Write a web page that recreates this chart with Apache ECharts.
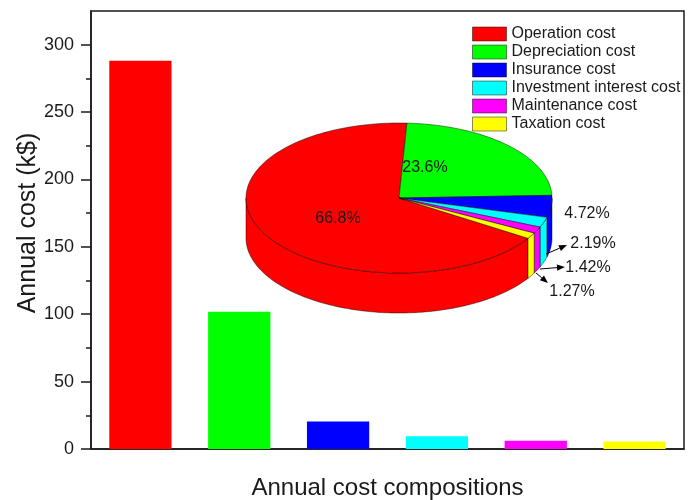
<!DOCTYPE html>
<html>
<head>
<meta charset="utf-8">
<script src="https://cdn.jsdelivr.net/npm/echarts@6/dist/echarts.min.js"></script>
<style>
  html, body { margin: 0; padding: 0; background: #fff; }
  #chart { width: 696px; height: 500px; }
</style>
</head>
<body>
<div id="chart"></div>
<script>
// Cost components (k$ per year)
const categories = ['Operation cost', 'Depreciation cost', 'Insurance cost',
  'Investment interest cost', 'Maintenance cost', 'Taxation cost'];
const annualCost = [288.1, 101.8, 20.4, 9.45, 6.12, 5.48];
// Share of each component in the total annual cost (%)
const costShare = [66.8, 23.6, 4.72, 2.19, 1.42, 1.27];
const colors = ['#FF0000', '#00FF00', '#0000FF', '#00FFFF', '#FF00FF', '#FFFF00'];
// Y-axis tick values
const yTicks = [0, 50, 100, 150, 200, 250, 300];
const yMinorTicks = [25, 75, 125, 175, 225, 275];

const FONT = '"Liberation Sans", Arial, sans-serif';
const INK = '#1a1a1a';

// Geometry of the tilted pie drawn as an inset
const PIE = { cx: 399, cy: 198, rx: 153, ry: 75, depth: 40, start: 327.5 };
// Label placement around the pie (offsets from the pie centre)
const pieLabels = [
  { at: [-61, 21] },
  { at: [26, -30] },
  { at: [188, 16] },
  { at: [194, 46], arrow: [[147, 56], [168, 47]] },
  { at: [189, 70], arrow: [[141, 71], [166, 69]] },
  { at: [173, 94], arrow: [[137, 75], [149, 85]] }
];

function pt(a, dy) {
  const r = a * Math.PI / 180;
  return [PIE.cx + PIE.rx * Math.cos(r), PIE.cy - PIE.ry * Math.sin(r) + (dy || 0)];
}
function arc(a0, a1, dy) {
  const n = Math.max(2, Math.ceil(Math.abs(a1 - a0)));
  const pts = [];
  for (let i = 0; i <= n; i++) pts.push(pt(a0 + (a1 - a0) * i / n, dy));
  return pts;
}

const outline = { stroke: 'rgba(0,0,0,0.75)', lineWidth: 0.6, lineJoin: 'round' };

function renderPieSlice(params, api) {
  const i = params.dataIndex;
  const share = api.value(0);
  let before = 0;
  for (let k = 0; k < i; k++) before += costShare[k];
  const s = PIE.start - 3.6 * before;   // slice start angle (clockwise order)
  const e = s - 3.6 * share;            // slice end angle
  const children = [];
  const color = colors[i];

  // outer wall, only on the front half of the disc
  for (let k = -1; k <= 1; k++) {
    const lo = Math.max(e, 180 + 360 * k);
    const hi = Math.min(s, 360 + 360 * k);
    if (hi > lo) {
      const top = arc(lo, hi, 0);
      const bottom = arc(hi, lo, PIE.depth);
      children.push({
        type: 'polygon',
        shape: { points: top.concat(bottom) },
        style: Object.assign({ fill: color }, outline)
      });
    }
  }
  // top face
  const face = [[PIE.cx, PIE.cy]].concat(arc(s, e, 0));
  children.push({
    type: 'polygon',
    shape: { points: face },
    style: Object.assign({ fill: color }, outline),
    z2: 5
  });

  // percentage label
  const lab = pieLabels[i];
  children.push({
    type: 'text',
    x: PIE.cx + lab.at[0],
    y: PIE.cy + lab.at[1],
    z2: 10,
    style: {
      text: share + '%', fill: INK, font: '16px ' + FONT,
      align: 'center', verticalAlign: 'middle'
    }
  });
  if (lab.arrow) {
    const p0 = [PIE.cx + lab.arrow[0][0], PIE.cy + lab.arrow[0][1]];
    const p1 = [PIE.cx + lab.arrow[1][0], PIE.cy + lab.arrow[1][1]];
    const dx = p1[0] - p0[0], dy = p1[1] - p0[1];
    const len = Math.sqrt(dx * dx + dy * dy);
    const ux = dx / len, uy = dy / len;
    const hl = 8, hw = 3.2;
    const base = [p1[0] - ux * hl, p1[1] - uy * hl];
    children.push({
      type: 'line', z2: 10,
      shape: { x1: p0[0], y1: p0[1], x2: base[0], y2: base[1] },
      style: { stroke: '#000', lineWidth: 1 }
    });
    children.push({
      type: 'polygon', z2: 10,
      shape: { points: [p1, [base[0] - uy * hw, base[1] + ux * hw], [base[0] + uy * hw, base[1] - ux * hw]] },
      style: { fill: '#000' }
    });
  }
  return { type: 'group', children: children };
}

const barSeries = categories.map((name, i) => ({
  name: name,
  type: 'bar',
  stack: 'cost',
  barWidth: '63%',
  itemStyle: { color: colors[i] },
  data: annualCost.map((v, j) => (j === i ? v : '-')),
  z: 2
}));

const chart = echarts.init(document.getElementById('chart'), null, { renderer: 'canvas' });
chart.setOption({
  animation: false,
  color: colors,
  textStyle: { fontFamily: FONT },
  grid: {
    left: 91, right: 12, top: 11, bottom: 51,
    outerBoundsMode: 'none',
    containLabel: false,
    show: true, borderColor: INK, borderWidth: 1.5, backgroundColor: 'transparent'
  },
  legend: {
    orient: 'vertical',
    left: 467, top: 20,
    itemWidth: 34, itemHeight: 14, itemGap: 0,
    icon: 'rect',
    itemStyle: { borderColor: 'rgba(0,0,0,0.45)', borderWidth: 1 },
    textStyle: { fontSize: 16, lineHeight: 18, color: INK, fontFamily: FONT, padding: [0, 0, 0, 0] },
    data: categories
  },
  // y-axis title
  graphic: [{
    type: 'text',
    x: 28, y: 223,
    rotation: Math.PI / 2,
    style: {
      text: 'Annual cost (k$)', fill: INK, font: '25px ' + FONT,
      align: 'center', verticalAlign: 'middle'
    }
  }],
  xAxis: [{
    type: 'category',
    data: categories,
    name: 'Annual cost compositions',
    nameLocation: 'middle',
    nameGap: 27,
    nameTextStyle: { fontSize: 24, color: INK, fontFamily: FONT },
    axisLine: { lineStyle: { color: INK, width: 1.5 } },
    axisTick: { alignWithLabel: true, length: 8, interval: 0, lineStyle: { color: INK, width: 1.5 } },
    axisLabel: { show: false },
    splitLine: { show: false }
  }, {
    type: 'category',
    data: categories,
    position: 'bottom',
    axisLine: { show: false },
    axisTick: { length: 4, interval: 0, lineStyle: { color: INK, width: 1.5 } },
    axisLabel: { show: false },
    splitLine: { show: false }
  }],
  yAxis: [{
    type: 'value',
    min: 0, max: 325,
    interval: 50,
    axisLine: { show: true, lineStyle: { color: INK, width: 1.5 } },
    axisTick: { show: true, length: 10, customValues: yTicks, lineStyle: { color: INK, width: 1.5 } },
    axisLabel: { fontSize: 18, color: INK, margin: 17, customValues: yTicks, fontFamily: FONT },
    splitLine: { show: false }
  }, {
    type: 'value',
    min: 0, max: 325,
    interval: 50,
    position: 'left',
    axisLine: { show: false },
    axisTick: { show: true, length: 5, customValues: yMinorTicks, lineStyle: { color: INK, width: 1.5 } },
    axisLabel: { show: false },
    splitLine: { show: false }
  }],
  series: barSeries.concat([{
    type: 'custom',
    name: 'share',
    coordinateSystem: 'none',
    renderItem: renderPieSlice,
    data: costShare.map(v => [v]),
    z: 5,
    silent: true
  }])
});
</script>
</body>
</html>
